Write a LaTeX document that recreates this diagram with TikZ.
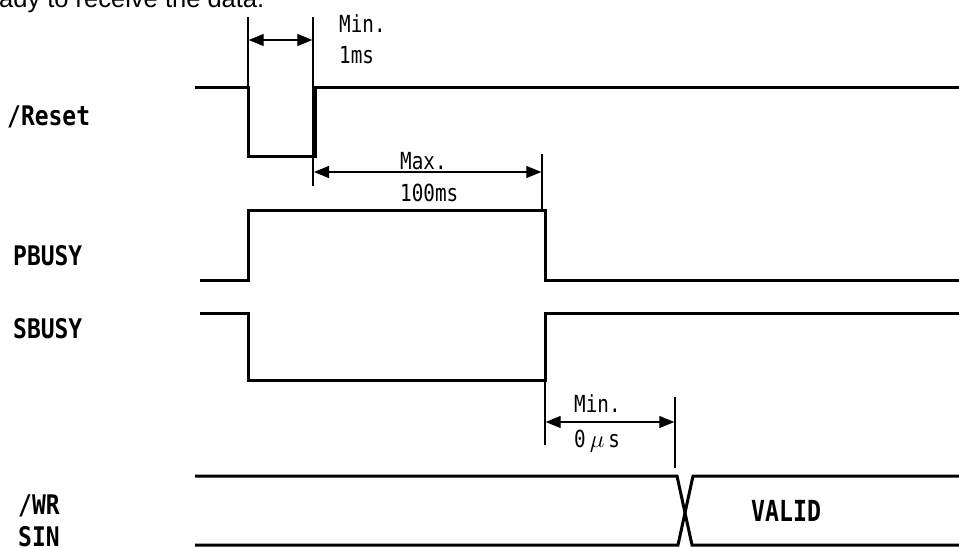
\documentclass[tikz,border=0pt]{standalone}
\usepackage{fontspec}
\usetikzlibrary{arrows.meta}
\setmainfont{Liberation Sans}
\newfontfamily\labfont[FakeStretch=0.85]{DejaVu Sans Mono}
\newfontfamily\annfont[FakeStretch=0.82]{DejaVu Sans Mono}
\newfontfamily\valfont[FakeStretch=0.8]{DejaVu Sans Mono}
\begin{document}
\begin{tikzpicture}[x=1pt,y=-1pt,
  sig/.style={line width=3pt, line join=miter},
  guide/.style={line width=1.3pt},
  dimarrow/.style={line width=1.3pt,
    {Triangle[length=15pt,width=12pt]}-{Triangle[length=15pt,width=12pt]}},
  siglabel/.style={anchor=base west, inner sep=0pt, font=\labfont\bfseries\fontsize{27}{30}\selectfont},
  annot/.style={anchor=base west, inner sep=0pt, font=\annfont\fontsize{23.5}{27}\selectfont},
  vallabel/.style={anchor=base west, inner sep=0pt, font=\valfont\bfseries\fontsize{29}{32}\selectfont}]
\useasboundingbox (0,0) rectangle (959,547);
\clip (0,0) rectangle (959,547);

% heading text (cut off at the top edge)
\node[anchor=base west, inner sep=0pt, font=\fontsize{25.5}{30}\selectfont] (head) at (-1,7) {ady to receive the data.};

% signal labels
\node[siglabel] (lreset) at (7,125) {/Reset};
\node[siglabel] (lpbusy) at (13,265) {PBUSY};
\node[siglabel] (lsbusy) at (13,338) {SBUSY};
\node[siglabel] (lwr) at (18,514) {/WR};
\node[siglabel] (lsin) at (18,546) {SIN};

% /Reset
\coordinate (r0) at (195,87);
\coordinate (r1) at (248,87);
\coordinate (r2) at (248,156);
\coordinate (r3) at (315,156);
\coordinate (r4) at (315,87);
\coordinate (r5) at (959,87);
\draw[sig] (r0) -- (r1) -- (r2) -- (r3) -- (r4) -- (r5);

% PBUSY
\coordinate (p0) at (200,280);
\coordinate (p1) at (248,280);
\coordinate (p2) at (248,210);
\coordinate (p3) at (545,210);
\coordinate (p4) at (545,280);
\coordinate (p5) at (959,280);
\draw[sig] (p0) -- (p1) -- (p2) -- (p3) -- (p4) -- (p5);

% SBUSY
\coordinate (s0) at (200,313);
\coordinate (s1) at (248,313);
\coordinate (s2) at (248,380);
\coordinate (s3) at (545,380);
\coordinate (s4) at (545,313);
\coordinate (s5) at (959,313);
\draw[sig] (s0) -- (s1) -- (s2) -- (s3) -- (s4) -- (s5);

% /WR SIN bus
\coordinate (bt0) at (195,476);
\coordinate (bt1) at (677,476);
\coordinate (bt2) at (693,476);
\coordinate (bt3) at (959,476);
\coordinate (bb0) at (195,545);
\coordinate (bb1) at (678,545);
\coordinate (bb2) at (692,545);
\coordinate (bb3) at (959,545);
\draw[sig] (bt0) -- (bt1) -- (bb2) -- (bb3);
\draw[sig] (bb0) -- (bb1) -- (bt2) -- (bt3);
\node[vallabel] (valid) at (751,521) {VALID};

% guide lines
\coordinate (g1t) at (248,17);
\coordinate (g2t) at (313,17);
\coordinate (g2b) at (313,186);
\coordinate (g3t) at (542,154);
\coordinate (g3b) at (542,210);
\coordinate (g4b) at (545,445);
\coordinate (g5t) at (675,397);
\coordinate (g5b) at (675,468);
\draw[guide] (g1t) -- (r1);
\draw[guide] (g2t) -- (g2b);
\draw[guide] (g3t) -- (g3b);
\draw[guide] (s3) -- (g4b);
\draw[guide] (g5t) -- (g5b);

% dimension arrows
\coordinate (a1l) at (248.7,40);
\coordinate (a1r) at (312.3,40);
\coordinate (a2l) at (314,172);
\coordinate (a2r) at (541.3,172);
\coordinate (a3l) at (545.7,422);
\coordinate (a3r) at (674.3,422);
\draw[dimarrow] (a1l) -- (a1r);
\draw[dimarrow] (a2l) -- (a2r);
\draw[dimarrow] (a3l) -- (a3r);

% annotations
\node[annot] (min1) at (339,32) {Min.};
\node[annot] (ms1) at (339,63) {1ms};
\node[annot] (max) at (400,169) {Max.};
\node[annot] (ms100) at (400,201) {100ms};
\node[annot] (min2) at (574,412) {Min.};
\node[annot] (us0) at (574,447) {0\hspace{4pt}$\mu$\hspace{4pt}s};
\end{tikzpicture}
\end{document}
